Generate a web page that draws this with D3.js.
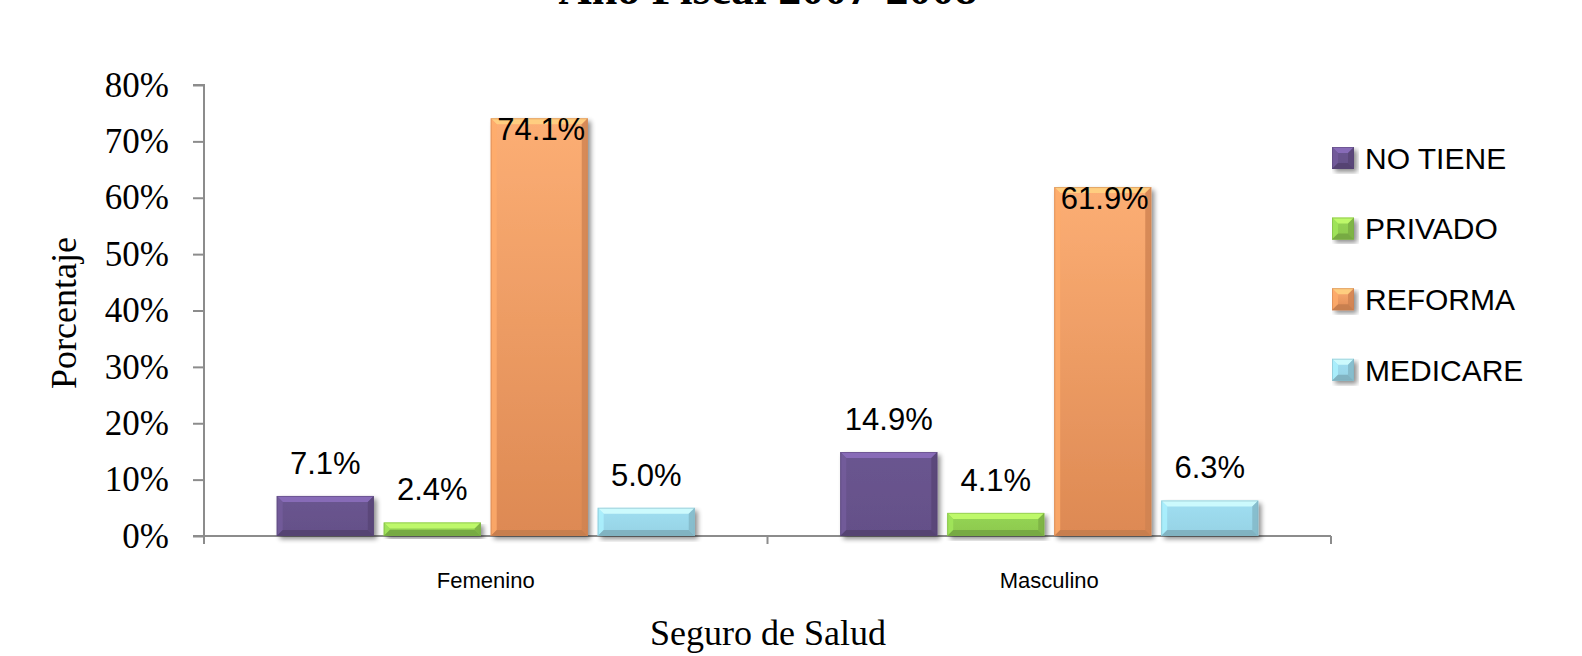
<!DOCTYPE html>
<html><head><meta charset="utf-8">
<script src="https://cdn.jsdelivr.net/npm/d3@7"></script>
<style>
html,body{margin:0;padding:0;background:#fff;}
svg{display:block;}
</style></head>
<body>
<svg id="chart" width="1582" height="656"></svg>
<script>
const title = "Año Fiscal 2007-2008";
const categories = ["Femenino", "Masculino"];
const seriesNames = ["NO TIENE", "PRIVADO", "REFORMA", "MEDICARE"];
const noTiene = [0.071, 0.149];
const privado = [0.024, 0.041];
const reforma = [0.741, 0.619];
const medicare = [0.050, 0.063];
const yTicks = [0, 0.1, 0.2, 0.3, 0.4, 0.5, 0.6, 0.7, 0.8];
const seriesValues = [noTiene, privado, reforma, medicare];
const seriesColors = ["#66518a", "#8fcc50", "#f2995f", "#99d6e8"];

const svg = d3.select("#chart");
const W = 1582, H = 656;
const m = {left: 204, right: 251, top: 85, bottom: 120};
const x0 = d3.scaleBand().domain(categories).range([m.left, W - m.right]).paddingInner(0).paddingOuter(0);
const x1 = d3.scaleBand().domain(seriesNames).range([0, x0.bandwidth()]).paddingInner(0.093).paddingOuter(0.68);
const y = d3.scaleLinear().domain([0, 0.8]).range([H - m.bottom, m.top]);

const defs = svg.append("defs");
const f = defs.append("filter").attr("id", "sh").attr("x", "-10%").attr("y", "-10%").attr("width", "130%").attr("height", "130%");
f.append("feGaussianBlur").attr("in", "SourceAlpha").attr("stdDeviation", 2.5).attr("result", "b");
f.append("feOffset").attr("in", "b").attr("dx", 3).attr("dy", 3).attr("result", "o");
f.append("feComponentTransfer").attr("in", "o").attr("result", "o2").append("feFuncA").attr("type", "linear").attr("slope", 0.45);
const fm = f.append("feMerge");
fm.append("feMergeNode").attr("in", "o2");
fm.append("feMergeNode").attr("in", "SourceGraphic");

seriesColors.forEach((c, i) => {
  const g = defs.append("linearGradient").attr("id", "grad" + i).attr("x1", 0).attr("y1", 0).attr("x2", 0).attr("y2", 1);
  const base = d3.color(c);
  g.append("stop").attr("offset", "0%").attr("stop-color", i === 2 ? "#fcae74" : base.brighter(0.12).formatHex());
  g.append("stop").attr("offset", "100%").attr("stop-color", i === 2 ? "#dd8953" : base.darker(0.05).formatHex());
});

// axes
const axisColor = "#8c8c8c";
const yAxis = d3.axisLeft(y).tickValues(yTicks).tickFormat(d3.format(".0%")).tickSize(11).tickPadding(24);
const gy = svg.append("g").attr("transform", `translate(${m.left},0)`).call(yAxis);
gy.select(".domain").attr("stroke", axisColor).attr("stroke-width", 2).attr("d", `M-11,${y(0.8)}H0V${y(0)}`);
gy.selectAll(".tick line").attr("stroke", axisColor).attr("stroke-width", 2);
gy.selectAll(".tick text").attr("font-family", "Liberation Serif, Times New Roman, serif").attr("font-size", 35).attr("fill", "#000");

// x axis line with ticks at band boundaries
const xBounds = [x0.range()[0], ...categories.map(c => x0(c) + x0.bandwidth())];
const gx = svg.append("g");
gx.append("line").attr("x1", m.left - 11).attr("x2", W - m.right).attr("y1", y(0)).attr("y2", y(0)).attr("stroke", axisColor).attr("stroke-width", 2);
gx.selectAll("line.t").data(xBounds).join("line").attr("class", "t")
  .attr("x1", d => d).attr("x2", d => d).attr("y1", y(0)).attr("y2", y(0) + 8)
  .attr("stroke", axisColor).attr("stroke-width", 2);
gx.selectAll("text").data(categories).join("text")
  .attr("x", d => x0(d) + x0.bandwidth() / 2).attr("y", y(0) + 52)
  .attr("text-anchor", "middle").attr("font-family", "Liberation Sans, Arial, sans-serif")
  .attr("font-size", 22).attr("fill", "#000").text(d => d);

// bars
function bevel(g, x, yy, w, h, color, gi) {
  const b = Math.min(6, h / 2);
  const c = d3.color(color);
  g.append("rect").attr("x", x).attr("y", yy).attr("width", w).attr("height", h).attr("fill", `url(#grad${gi})`)
    .attr("filter", "url(#sh)");
  const poly = (pts, fill, op) => g.append("polygon").attr("points", pts.map(p => p.join(",")).join(" ")).attr("fill", fill).attr("opacity", op);
  poly([[x, yy], [x + w, yy], [x + w - b, yy + b], [x + b, yy + b]], c.brighter(0.9).formatHex(), 0.85);
  poly([[x, yy], [x + b, yy + b], [x + b, yy + h - b], [x, yy + h]], c.brighter(0.35).formatHex(), 0.8);
  poly([[x + w, yy], [x + w - b, yy + b], [x + w - b, yy + h - b], [x + w, yy + h]], c.darker(0.45).formatHex(), 0.8);
  poly([[x, yy + h], [x + b, yy + h - b], [x + w - b, yy + h - b], [x + w, yy + h]], c.darker(0.6).formatHex(), 0.85);
  g.append("rect").attr("x", x + 0.5).attr("y", yy + 0.5).attr("width", w - 1).attr("height", h - 1)
    .attr("fill", "none").attr("stroke", c.darker(0.5).formatHex()).attr("stroke-opacity", 0.5).attr("stroke-width", 1);
}

const pct = d3.format(".1%");
const gBars = svg.append("g");
const gLabels = svg.append("g");
categories.forEach((cat, ci) => {
  seriesNames.forEach((s, si) => {
    const v = seriesValues[si][ci];
    const bx = x0(cat) + x1(s);
    const by = y(v);
    const bh = y(0) - y(v);
    bevel(gBars.append("g"), bx, by, x1.bandwidth(), bh, seriesColors[si], si);
    const inside = v > 0.5;
    gLabels.append("text")
      .attr("x", bx + x1.bandwidth() / 2 + (inside ? 2 : 0))
      .attr("y", inside ? by + 22 : by - 22)
      .attr("text-anchor", "middle").attr("font-family", "Liberation Sans, Arial, sans-serif")
      .attr("font-size", 31).attr("fill", "#000").text(pct(v));
  });
});

// legend
const lg = svg.append("g").attr("transform", "translate(1332,158)");
seriesNames.forEach((s, i) => {
  const g = lg.append("g").attr("transform", `translate(0,${i * 70.6})`);
  bevel(g, 0, -11, 22, 22, seriesColors[i], i);
  g.append("text").attr("x", 33).attr("y", 0).attr("dy", "0.36em")
    .attr("font-family", "Liberation Sans, Arial, sans-serif").attr("font-size", 30).attr("fill", "#000").text(s);
});

// titles
svg.append("text").attr("x", 768).attr("y", 4).attr("text-anchor", "middle")
  .attr("font-family", "Liberation Serif, Times New Roman, serif").attr("font-weight", "bold").attr("font-size", 46)
  .attr("fill", "#000").text(title);
svg.append("text").attr("x", 768).attr("y", 645).attr("text-anchor", "middle")
  .attr("font-family", "Liberation Serif, Times New Roman, serif").attr("font-size", 36).attr("fill", "#000").text("Seguro de Salud");
svg.append("text").attr("transform", "translate(76,313) rotate(-90)").attr("text-anchor", "middle")
  .attr("font-family", "Liberation Serif, Times New Roman, serif").attr("font-size", 36).attr("fill", "#000").text("Porcentaje");
</script>
</body></html>
